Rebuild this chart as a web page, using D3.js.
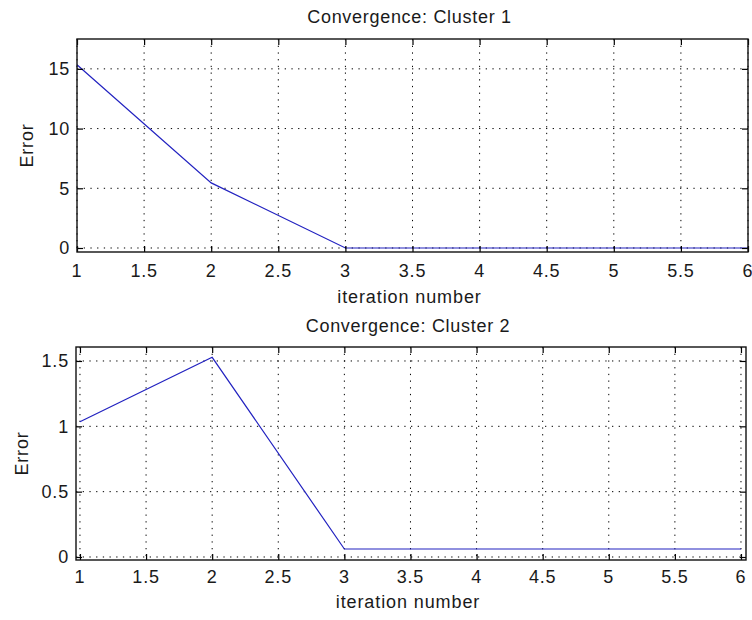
<!DOCTYPE html>
<html>
<head>
<meta charset="utf-8">
<script src="https://cdn.jsdelivr.net/npm/d3@7"></script>
<style>
  html, body { margin: 0; padding: 0; background: #fff; }
  svg text { font-family: "Liberation Sans", Arial, sans-serif; fill: #1a1a1a; }
</style>
</head>
<body>
<svg id="chart" width="752" height="620"></svg>
<script>
// ---- data ----
const iterations = [1, 2, 3, 4, 5, 6];
const cluster1Error = [15.35, 5.45, 0, 0, 0, 0];
const cluster2Error = [1.035, 1.528, 0.061, 0.061, 0.061, 0.061];
const xTicks = [1, 1.5, 2, 2.5, 3, 3.5, 4, 4.5, 5, 5.5, 6];
const yTicks1 = [0, 5, 10, 15];
const yTicks2 = [0, 0.5, 1, 1.5];
const titles = ["Convergence: Cluster 1", "Convergence: Cluster 2"];
const xLabel = "iteration number";
const yLabel = "Error";

const svg = d3.select("#chart");
const fmt = d => String(d);

const panels = [
  { title: titles[0], values: cluster1Error, yTicks: yTicks1,
    box: { l: 77, r: 748, t: 39, b: 252 },
    xDomain: [1, 6], yDomain: [-0.335, 17.5],
    titleY: 23, tickY: 277, xLabelY: 303, yLabelX: 33 },
  { title: titles[1], values: cluster2Error, yTicks: yTicks2,
    box: { l: 76, r: 746, t: 347, b: 560 },
    xDomain: [0.97, 6.038], yDomain: [-0.023, 1.607],
    titleY: 332, tickY: 583, xLabelY: 608, yLabelX: 28 }
];

panels.forEach(p => {
  const { l, r, t, b } = p.box;
  const x = d3.scaleLinear().domain(p.xDomain).range([l, r]);
  const y = d3.scaleLinear().domain(p.yDomain).range([b, t]);
  const g = svg.append("g");

  // grid (dotted)
  g.append("g").selectAll("line").data(xTicks).join("line")
    .attr("x1", d => x(d)).attr("x2", d => x(d))
    .attr("y1", t).attr("y2", b)
    .attr("stroke", "#000").attr("stroke-width", 1)
    .attr("stroke-dasharray", "1.3,5.4");
  g.append("g").selectAll("line").data(p.yTicks).join("line")
    .attr("y1", d => y(d)).attr("y2", d => y(d))
    .attr("x1", l).attr("x2", r)
    .attr("stroke", "#000").attr("stroke-width", 1)
    .attr("stroke-dasharray", "1.3,5.4");

  // data line
  const line = d3.line().x((d, i) => x(iterations[i])).y(d => y(d));
  g.append("path").datum(p.values)
    .attr("d", line)
    .attr("fill", "none")
    .attr("stroke", "#2222c0")
    .attr("stroke-width", 1.2);

  // axes with inward ticks on all four sides
  const tl = 6;
  const bottomAx = d3.axisBottom(x).tickValues(xTicks).tickSize(-tl).tickFormat("");
  const topAx = d3.axisTop(x).tickValues(xTicks).tickSize(-tl).tickFormat("");
  const leftAx = d3.axisLeft(y).tickValues(p.yTicks).tickSize(-tl).tickFormat("");
  const rightAx = d3.axisRight(y).tickValues(p.yTicks).tickSize(-tl).tickFormat("");
  [[bottomAx, `translate(0,${b})`], [topAx, `translate(0,${t})`],
   [leftAx, `translate(${l},0)`], [rightAx, `translate(${r},0)`]].forEach(([ax, tr]) => {
    const a = g.append("g").attr("transform", tr).call(ax);
    a.select(".domain").remove();
    a.selectAll(".tick line").attr("stroke", "#000").attr("stroke-width", 1.2);
  });

  // box
  g.append("rect")
    .attr("x", l).attr("y", t).attr("width", r - l).attr("height", b - t)
    .attr("fill", "none").attr("stroke", "#111").attr("stroke-width", 1.4);

  // tick labels
  g.append("g").selectAll("text").data(xTicks).join("text")
    .attr("x", d => x(d)).attr("y", p.tickY)
    .attr("text-anchor", "middle")
    .style("font-size", "18px").style("letter-spacing", "0.8px")
    .text(fmt);
  g.append("g").selectAll("text").data(p.yTicks).join("text")
    .attr("x", l - 7).attr("y", d => y(d))
    .attr("dy", "0.35em")
    .attr("text-anchor", "end")
    .style("font-size", "18px").style("letter-spacing", "0.8px")
    .text(fmt);

  // titles / labels
  g.append("text")
    .attr("x", (l + r) / 2 - 3).attr("y", p.titleY)
    .attr("text-anchor", "middle")
    .style("font-size", "18px").style("letter-spacing", "0.7px")
    .text(p.title);
  g.append("text")
    .attr("x", (l + r) / 2 - 3).attr("y", p.xLabelY)
    .attr("text-anchor", "middle")
    .style("font-size", "18px").style("letter-spacing", "0.9px")
    .text(xLabel);
  g.append("text")
    .attr("transform", `translate(${p.yLabelX},${(t + b) / 2}) rotate(-90)`)
    .attr("text-anchor", "middle")
    .style("font-size", "18px").style("letter-spacing", "0.8px")
    .text(yLabel);
});
</script>
</body>
</html>
